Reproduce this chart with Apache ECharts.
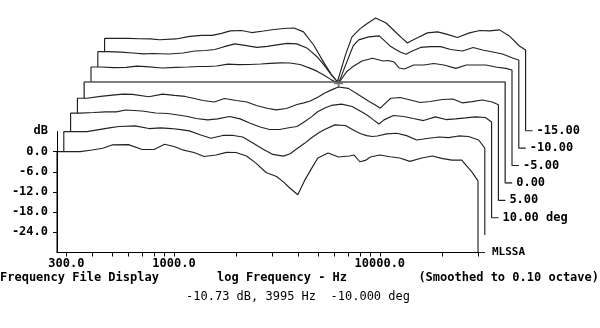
<!DOCTYPE html>
<html>
<head>
<meta charset="utf-8">
<script src="https://cdn.jsdelivr.net/npm/echarts@6/dist/echarts.min.js"></script>
<style>
  html, body { margin: 0; padding: 0; background: #fff; }
  #chart { width: 600px; height: 328px; }
</style>
</head>
<body>
<div id="chart"></div>
<script>
// Frequency points shared by every trace (Hz)
const freqHz = [270, 300, 350, 400, 450, 500, 600, 700, 800, 900, 1000, 1100, 1250, 1400, 1600, 1800,
  2000, 2250, 2500, 2800, 3150, 3400, 3650, 3995, 4300, 4700, 5000, 5600, 6300, 7100, 7500, 8000,
  8500, 9000, 10000, 11200, 12500, 14000, 16000, 18000, 20000, 22400, 25000, 28000, 30000];

// Response differences (dB) for each angle, front of the stack first
const resp20 = [0, 0, 0, 0.5, 1.0, 2.0, 2.1, 0.65, 0.65, 2.2, 1.55, 0.55, -0.25, -1.45, -1.0, -0.2,
  -0.25, -1.3, -3.4, -6.2, -7.4, -9.0, -10.8, -12.8, -8.7, -4.6, -1.9, -0.4, -1.6, -1.3, -1.0, -3.0,
  -2.6, -1.6, -1.0, -1.5, -1.9, -2.9, -1.9, -1.3, -2.0, -2.5, -2.5, -6.0, -8.7];
const resp15 = [0.8, 0.8, 0.8, 1.4, 1.9, 2.3, 2.5, 1.7, 1.9, 1.7, 1.4, 1.0, -0.2, -1.2, -0.35, -0.35,
  -0.8, -2.7, -4.4, -6.0, -6.5, -5.8, -4.4, -2.7, -1.1, 0.5, 1.4, 2.8, 2.6, 0.8, 0.15, -0.4,
  -0.65, -0.5, 0.1, 0.3, -0.4, -1.7, -1.2, -0.8, -1.0, -0.5, -0.65, -1.7, -4.1];
const resp10 = [1.1, 1.1, 1.3, 1.5, 1.5, 2.05, 1.75, 1.15, 1.0, 0.55, 0.1, -0.5, -0.9, -0.6, 0.1, -0.6,
  -1.8, -3.0, -3.75, -3.75, -3.15, -2.85, -1.65, 0, 1.6, 2.8, 3.4, 3.8, 3.1, 1.3, 0.4, -0.9,
  -2.1, -0.9, 0.4, 0.1, -0.5, -1.1, 0, -0.8, -0.6, -0.3, 0, -0.2, -1.5];
const resp5 = [0.35, 0.35, 0.9, 1.3, 1.6, 1.5, 0.8, 1.6, 1.2, 0.9, 0.3, -0.3, -0.75, 0.3, -0.3, -0.75,
  -1.8, -2.6, -3.1, -2.7, -1.5, -1.0, -0.45, 0.75, 1.9, 3.0, 3.7, 3.3, 1.3, -0.65, -1.5, -2.6,
  -1.0, 0.35, 0.6, -0.15, -0.9, -0.6, 0, 0.15, -1.0, -0.65, -0.15, -0.75, -1.6];
const resp0 = freqHz.map(() => 0);
const respM5 = [-0.7, -0.7, -0.9, -0.8, -0.45, -0.6, -1.0, -0.8, -0.7, -0.55, -0.55, -0.4, 0.15, 0, 0.05, 0.2,
  0.4, 0.55, 0.5, 0.05, -1.1, -2.0, -3.1, -4.6, -5.6, -2.2, -0.8, 1.1, 1.9, 1.1, 1.25, 0.8,
  -1.0, -1.3, -0.1, -0.1, 0.35, -0.1, -1.1, -0.1, -0.1, -0.1, -0.7, -1.1, -1.6];
const respM10 = [-1.3, -1.3, -1.45, -1.7, -1.95, -1.85, -2.0, -1.7, -1.1, -0.95, -0.65, 0.1, 1.0, 0.55, -0.05, 0.25,
  0.7, 1.15, 1.0, -0.2, -2.9, -5.3, -7.9, -10.73, -5.6, 0.4, 2.2, 3.1, 3.4, 0.4, -0.5, -1.5,
  -2.1, -1.25, -0.05, 0.2, 0.2, -0.65, -1.1, -0.05, -0.8, -1.4, -2.0, -3.2, -3.8];
const respM15 = [-2.55, -2.55, -2.55, -2.65, -2.7, -2.95, -2.7, -1.95, -1.65, -1.65, -1.05, -0.3, -0.2, -0.8, -0.35, 0.1,
  0.4, 0.55, -0.6, -4.5, -9.9, -13.1, -15.5, -7.5, -2.1, 0.3, 1.5, 3.5, 2.05, -1.0, -2.4, -3.9,
  -3.0, -2.25, -0.9, -0.6, -1.35, -2.25, -0.9, -0.2, -0.3, 0, -1.8, -4.8, -6.0];

const traces = [resp20, resp15, resp10, resp5, resp0, respM5, respM10, respM15];
const traceLabels = ['MLSSA', '', '10.00 deg', '5.00', '0.00', '-5.00', '-10.00', '-15.00'];

// Axis ticks and labels
const tickHz = [300, 400, 500, 600, 700, 800, 900, 1000, 2000, 3000, 4000, 5000, 6000, 7000, 8000, 9000, 10000, 20000, 30000];
const labelHz = [300, 1000, 10000];
const dbTicks = [-24, -18, -12, -6, 0];

// Cursor readout
const cursorHz = 3995, cursorDb = -10.73, cursorDeg = -10, cursorTrace = 6;

// Layout (pixels)
const LEFT = 57, AXIS_END = 478, BASE = 252.5, TOP6 = 131.5, PAGE_W = 600, STACK_TOP = 8;
const F_MIN = 270, F_MAX = 30000, DB_MIN = -30, DB_MAX = 6;
const STEP_X = 6.8, STEP_Y = 17.4, STUB = 7;

const lg = Math.log10;
const pxPerDecade = (AXIS_END - LEFT) / lg(F_MAX / F_MIN);
const pxPerDb = (BASE - TOP6) / (DB_MAX - DB_MIN);
const stackMaxX = lg(F_MIN) + (PAGE_W - LEFT) / pxPerDecade;
const stackMaxDb = DB_MIN + (BASE - STACK_TOP) / pxPerDb;

const MONO = '"DejaVu Sans Mono", "Liberation Mono", monospace';
const INK = '#222';

// Each trace is a wall: left edge, response, right edge, then a short lead to its label.
// A white fill under every wall hides whatever sits behind it.
const series = traces.map((vals, k) => {
  const sx = k * STEP_X / pxPerDecade;
  const sy = k * STEP_Y / pxPerDb;
  const floor = DB_MIN + sy;
  const pts = [[lg(freqHz[0]) + sx, floor]];
  freqHz.forEach((f, i) => pts.push([lg(f) + sx, vals[i] + sy]));
  const xEnd = lg(freqHz[freqHz.length - 1]) + sx;
  pts.push([xEnd, floor]);
  const label = traceLabels[k];
  if (label) pts.push([xEnd + STUB / pxPerDecade, floor]);
  const isRef = vals === resp0;
  return {
    type: 'line',
    xAxisIndex: 1,
    yAxisIndex: 1,
    data: pts,
    symbol: 'none',
    silent: true,
    z: 20 - k,
    lineStyle: { color: isRef ? '#555' : INK, width: isRef ? 1.6 : 1.15 },
    areaStyle: { color: '#fff', opacity: 1, origin: 'start' },
    endLabel: {
      show: !!label,
      formatter: label,
      distance: k === 0 ? 7 : 4,
      color: '#000',
      fontFamily: MONO,
      fontWeight: 'bold',
      fontSize: k === 0 ? 11 : 12
    }
  };
});

// Cursor cross on the -10 deg trace
series.push({
  type: 'scatter',
  xAxisIndex: 1,
  yAxisIndex: 1,
  z: 40,
  silent: true,
  symbol: 'path://M4,0H6V4H10V6H6V10H4V6H0V4H4Z',
  symbolSize: 9,
  itemStyle: { color: '#555' },
  data: [[lg(cursorHz) + cursorTrace * STEP_X / pxPerDecade, cursorDb + cursorTrace * STEP_Y / pxPerDb]]
});

const labelFont = { fontFamily: MONO, fontWeight: 'bold', fontSize: 12, color: '#000' };

const option = {
  animation: false,
  backgroundColor: '#fff',
  grid: [
    { left: LEFT, top: TOP6, width: AXIS_END - LEFT, height: BASE - TOP6, containLabel: false, outerBoundsMode: 'none' },
    { left: LEFT, top: STACK_TOP, width: PAGE_W - LEFT, height: BASE - STACK_TOP, containLabel: false, outerBoundsMode: 'none' }
  ],
  xAxis: [
    {
      type: 'value', gridIndex: 0, min: lg(F_MIN), max: lg(F_MAX), z: 50,
      axisLine: { show: true, onZero: false, lineStyle: { color: '#000', width: 1 } },
      splitLine: { show: false },
      axisTick: { show: true, length: 4, customValues: tickHz.map(lg), lineStyle: { color: '#000' } },
      axisLabel: Object.assign({ customValues: labelHz.map(lg), margin: 5,
        formatter: v => Math.round(Math.pow(10, v)).toFixed(1) }, labelFont)
    },
    { type: 'value', gridIndex: 1, min: lg(F_MIN), max: stackMaxX, show: false }
  ],
  yAxis: [
    {
      type: 'value', gridIndex: 0, min: DB_MIN, max: DB_MAX, z: 50,
      axisLine: { show: true, onZero: false, lineStyle: { color: '#000', width: 1 } },
      splitLine: { show: false },
      axisTick: { show: true, length: 4, customValues: dbTicks, lineStyle: { color: '#000' } },
      axisLabel: Object.assign({ customValues: dbTicks, margin: 9,
        formatter: v => v.toFixed(1) }, labelFont)
    },
    { type: 'value', gridIndex: 1, min: DB_MIN, max: stackMaxDb, show: false }
  ],
  graphic: [
    { type: 'text', x: 48, y: 131, style: Object.assign({ text: 'dB', align: 'right', verticalAlign: 'middle' }, labelFont, { fill: '#000' }) },
    { type: 'text', x: 0, y: 278, style: Object.assign({ text: 'Frequency File Display', align: 'left', verticalAlign: 'middle' }, labelFont, { fill: '#000' }) },
    { type: 'text', x: 217, y: 278, style: Object.assign({ text: 'log Frequency - Hz', align: 'left', verticalAlign: 'middle' }, labelFont, { fill: '#000' }) },
    { type: 'text', x: 599, y: 278, style: Object.assign({ text: '(Smoothed to 0.10 octave)', align: 'right', verticalAlign: 'middle' }, labelFont, { fill: '#000' }) },
    { type: 'text', x: 298, y: 297, style: {
        text: cursorDb.toFixed(2) + ' dB, ' + cursorHz + ' Hz  ' + cursorDeg.toFixed(3) + ' deg',
        align: 'center', verticalAlign: 'middle', fontFamily: MONO, fontSize: 12, fill: '#000' } }
  ],
  series: series
};

const chart = echarts.init(document.getElementById('chart'), null, { renderer: 'canvas' });
chart.setOption(option);
</script>
</body>
</html>
